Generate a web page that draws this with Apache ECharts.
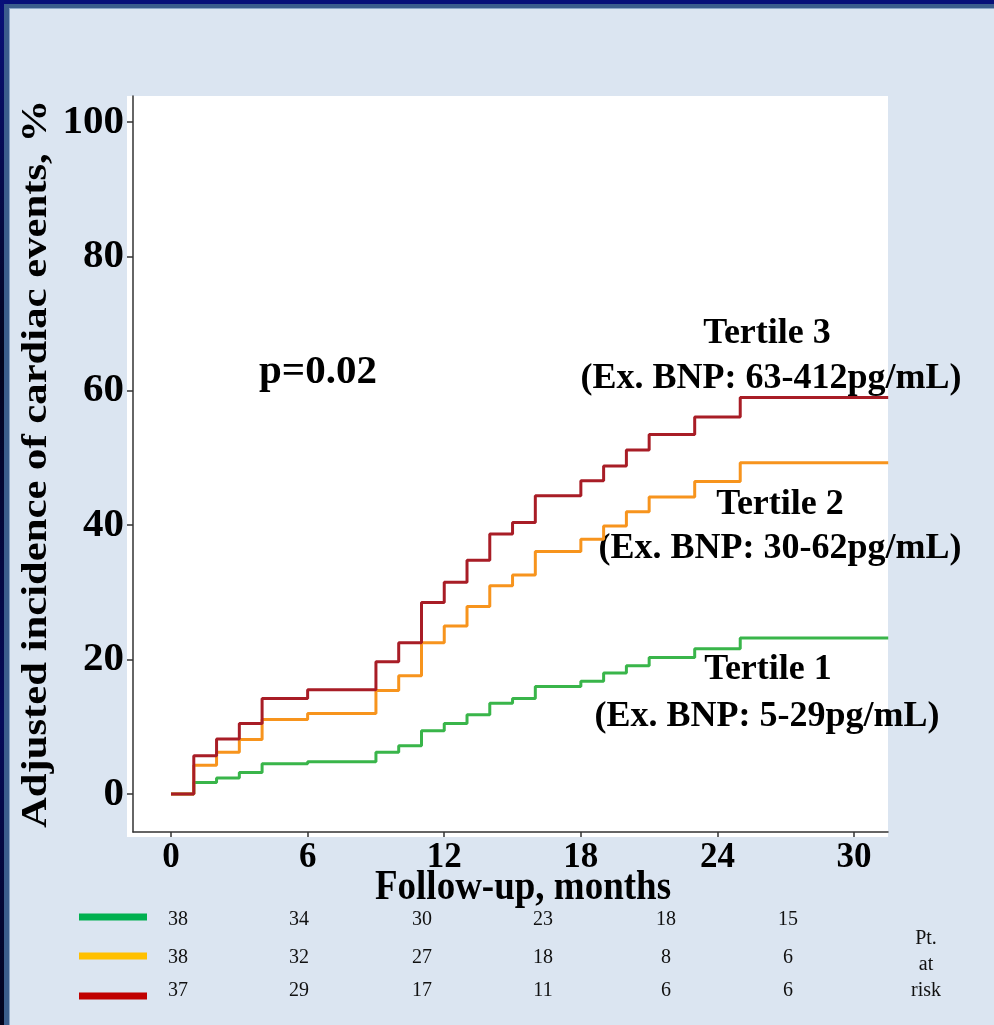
<!DOCTYPE html>
<html>
<head>
<meta charset="utf-8">
<title>Adjusted incidence of cardiac events by ex. BNP tertile</title>
<script src="https://cdn.jsdelivr.net/npm/echarts@6/dist/echarts.min.js"></script>
<style>
  html, body { margin: 0; padding: 0; background: #dbe5f1; }
  #chart { width: 994px; height: 1025px; }
</style>
</head>
<body>
<div id="chart"></div>
<script>
// step curves: month of each step and cumulative incidence (%) after it
const t1Months = [0, 1, 2, 3, 4, 6, 9, 10, 11, 12, 13, 14, 15, 16, 18, 19, 20, 21, 23, 25, 31.5]
const t1Values = [0, 1.7, 2.4, 3.2, 4.5, 4.8, 6.2, 7.2, 9.4, 10.5, 11.8, 13.5, 14.2, 16.0, 16.8, 18.0, 19.1, 20.3, 21.6, 23.2, 23.2]
const t2Months = [0, 1, 2, 3, 4, 6, 9, 10, 11, 12, 13, 14, 15, 16, 18, 19, 20, 21, 23, 25, 31.5]
const t2Values = [0, 4.3, 6.2, 8.1, 11.1, 12.0, 15.4, 17.6, 22.5, 25.0, 27.9, 31.0, 32.6, 36.1, 37.9, 39.9, 42.0, 44.2, 46.5, 49.3, 49.3]
const t3Months = [0, 1, 2, 3, 4, 6, 9, 10, 11, 12, 13, 14, 15, 16, 18, 19, 20, 21, 23, 25, 31.5]
const t3Values = [0, 5.7, 8.2, 10.5, 14.2, 15.5, 19.7, 22.5, 28.5, 31.5, 34.8, 38.7, 40.4, 44.4, 46.6, 48.8, 51.2, 53.5, 56.1, 59.0, 59.0]

const xTicks = [0, 6, 12, 18, 24, 30]
const yTicks = [0, 20, 40, 60, 80, 100]

// patients at risk (rows: tertile 1, 2, 3)
const riskT1 = [38, 34, 30, 23, 18, 15]
const riskT2 = [38, 32, 27, 18, 8, 6]
const riskT3 = [37, 29, 17, 11, 6, 6]

const serif = '"Liberation Serif", "Times New Roman", serif'
const lineColors = ['#39b54a', '#f7941d', '#a81d26']
const legendColors = ['#00b050', '#ffc000', '#c00000']

function zip(xs, ys) {
  return xs.map((x, i) => [x, ys[i]])
}

function label(text, x, y, size, extra) {
  return Object.assign({
    type: 'text',
    x: x,
    y: y,
    style: {
      text: text,
      fill: '#000',
      fontFamily: serif,
      fontWeight: 'bold',
      fontSize: size,
      align: 'center',
      verticalAlign: 'middle'
    }
  }, extra || {})
}

const frame = [
  // white plot panel, slightly larger than the axes
  {type: 'rect', z: -10, shape: {x: 127, y: 96, width: 761, height: 741}, style: {fill: '#fff'}},
  // slide border
  {type: 'rect', z: -5, shape: {x: 0, y: 0, width: 994, height: 4}, style: {fill: '#070f78'}},
  {type: 'rect', z: -5, shape: {x: 0, y: 4, width: 994, height: 4}, style: {fill: '#3b5d8c'}},
  {type: 'rect', z: -5, shape: {x: 9, y: 8, width: 985, height: 1}, style: {fill: '#8ea6c6'}},
  {
    type: 'rect', z: -4, shape: {x: 0, y: 0, width: 4, height: 1025},
    style: {
      fill: {
        type: 'linear', x: 0, y: 0, x2: 0, y2: 1,
        colorStops: [
          {offset: 0, color: '#08107a'},
          {offset: 0.35, color: '#02031c'},
          {offset: 0.7, color: '#050a5a'},
          {offset: 1, color: '#02031c'}
        ]
      }
    }
  },
  {type: 'rect', z: -4, shape: {x: 4, y: 4, width: 5, height: 1021}, style: {fill: '#3b5d8c'}},
  {type: 'rect', z: -4, shape: {x: 9, y: 8, width: 1, height: 1017}, style: {fill: '#8ea6c6'}}
]

const texts = [
  label('Adjusted incidence of cardiac events, %', 37, 464, 35, {rotation: Math.PI / 2, scaleX: 1.22}),
  label('Follow-up, months', 523, 888, 37, {scaleY: 1.12}),
  label('p=0.02', 318, 372, 41),
  label('Tertile 3', 767, 334, 36),
  label('(Ex. BNP: 63-412pg/mL)', 771, 379, 36),
  label('Tertile 2', 780, 505, 36),
  label('(Ex. BNP: 30-62pg/mL)', 780, 549, 36),
  label('Tertile 1', 768, 670, 36),
  label('(Ex. BNP: 5-29pg/mL)', 767, 717, 36)
]

// at-risk table under the x axis
const riskRows = [riskT1, riskT2, riskT3]
const rowY = [920, 958, 991]
const legendY = [917, 956, 996]
const colX = [178, 299, 422, 543, 666, 788]
const table = []
riskRows.forEach((row, r) => {
  table.push({
    type: 'rect',
    shape: {x: 79, y: legendY[r] - 3.5, width: 68, height: 7},
    style: {fill: legendColors[r]}
  })
  row.forEach((n, c) => {
    const t = label(String(n), colX[c], rowY[r], 20)
    t.style.fontWeight = 'normal'
    t.style.fill = '#111'
    table.push(t)
  })
})
;['Pt.', 'at', 'risk'].forEach((w, i) => {
  const t = label(w, 926, [939, 965, 991][i], 20)
  t.style.fontWeight = 'normal'
  t.style.fill = '#111'
  table.push(t)
})

const chart = echarts.init(document.getElementById('chart'))
const option = {
  backgroundColor: '#dbe5f1',
  animation: false,
  grid: {left: 133, right: 106, top: 96, bottom: 193},
  xAxis: {
    type: 'value',
    min: -1.67,
    max: 31.49,
    axisLine: {show: true, onZero: false, lineStyle: {color: '#333', width: 1.5}},
    axisTick: {show: true, customValues: xTicks, length: 5, lineStyle: {color: '#333', width: 1.5}},
    axisLabel: {
      customValues: xTicks,
      margin: 8,
      color: '#000',
      fontFamily: serif,
      fontWeight: 'bold',
      fontSize: 35
    },
    splitLine: {show: false}
  },
  yAxis: {
    type: 'value',
    min: -5.65,
    max: 103.87,
    axisLine: {show: true, onZero: false, lineStyle: {color: '#333', width: 1.5}},
    axisTick: {show: true, customValues: yTicks, length: 6, lineStyle: {color: '#333', width: 1.5}},
    axisLabel: {
      customValues: yTicks,
      margin: 9,
      color: '#000',
      fontFamily: serif,
      fontWeight: 'bold',
      fontSize: 41
    },
    splitLine: {show: false}
  },
  series: [
    {name: 'Tertile 1', data: zip(t1Months, t1Values)},
    {name: 'Tertile 2', data: zip(t2Months, t2Values)},
    {name: 'Tertile 3', data: zip(t3Months, t3Values)}
  ].map((s, i) => ({
    name: s.name,
    type: 'line',
    step: 'end',
    symbol: 'none',
    clip: true,
    lineStyle: {color: lineColors[i], width: 3},
    data: s.data
  })),
  graphic: {elements: frame.concat(texts, table)}
}
chart.setOption(option)
</script>
</body>
</html>
